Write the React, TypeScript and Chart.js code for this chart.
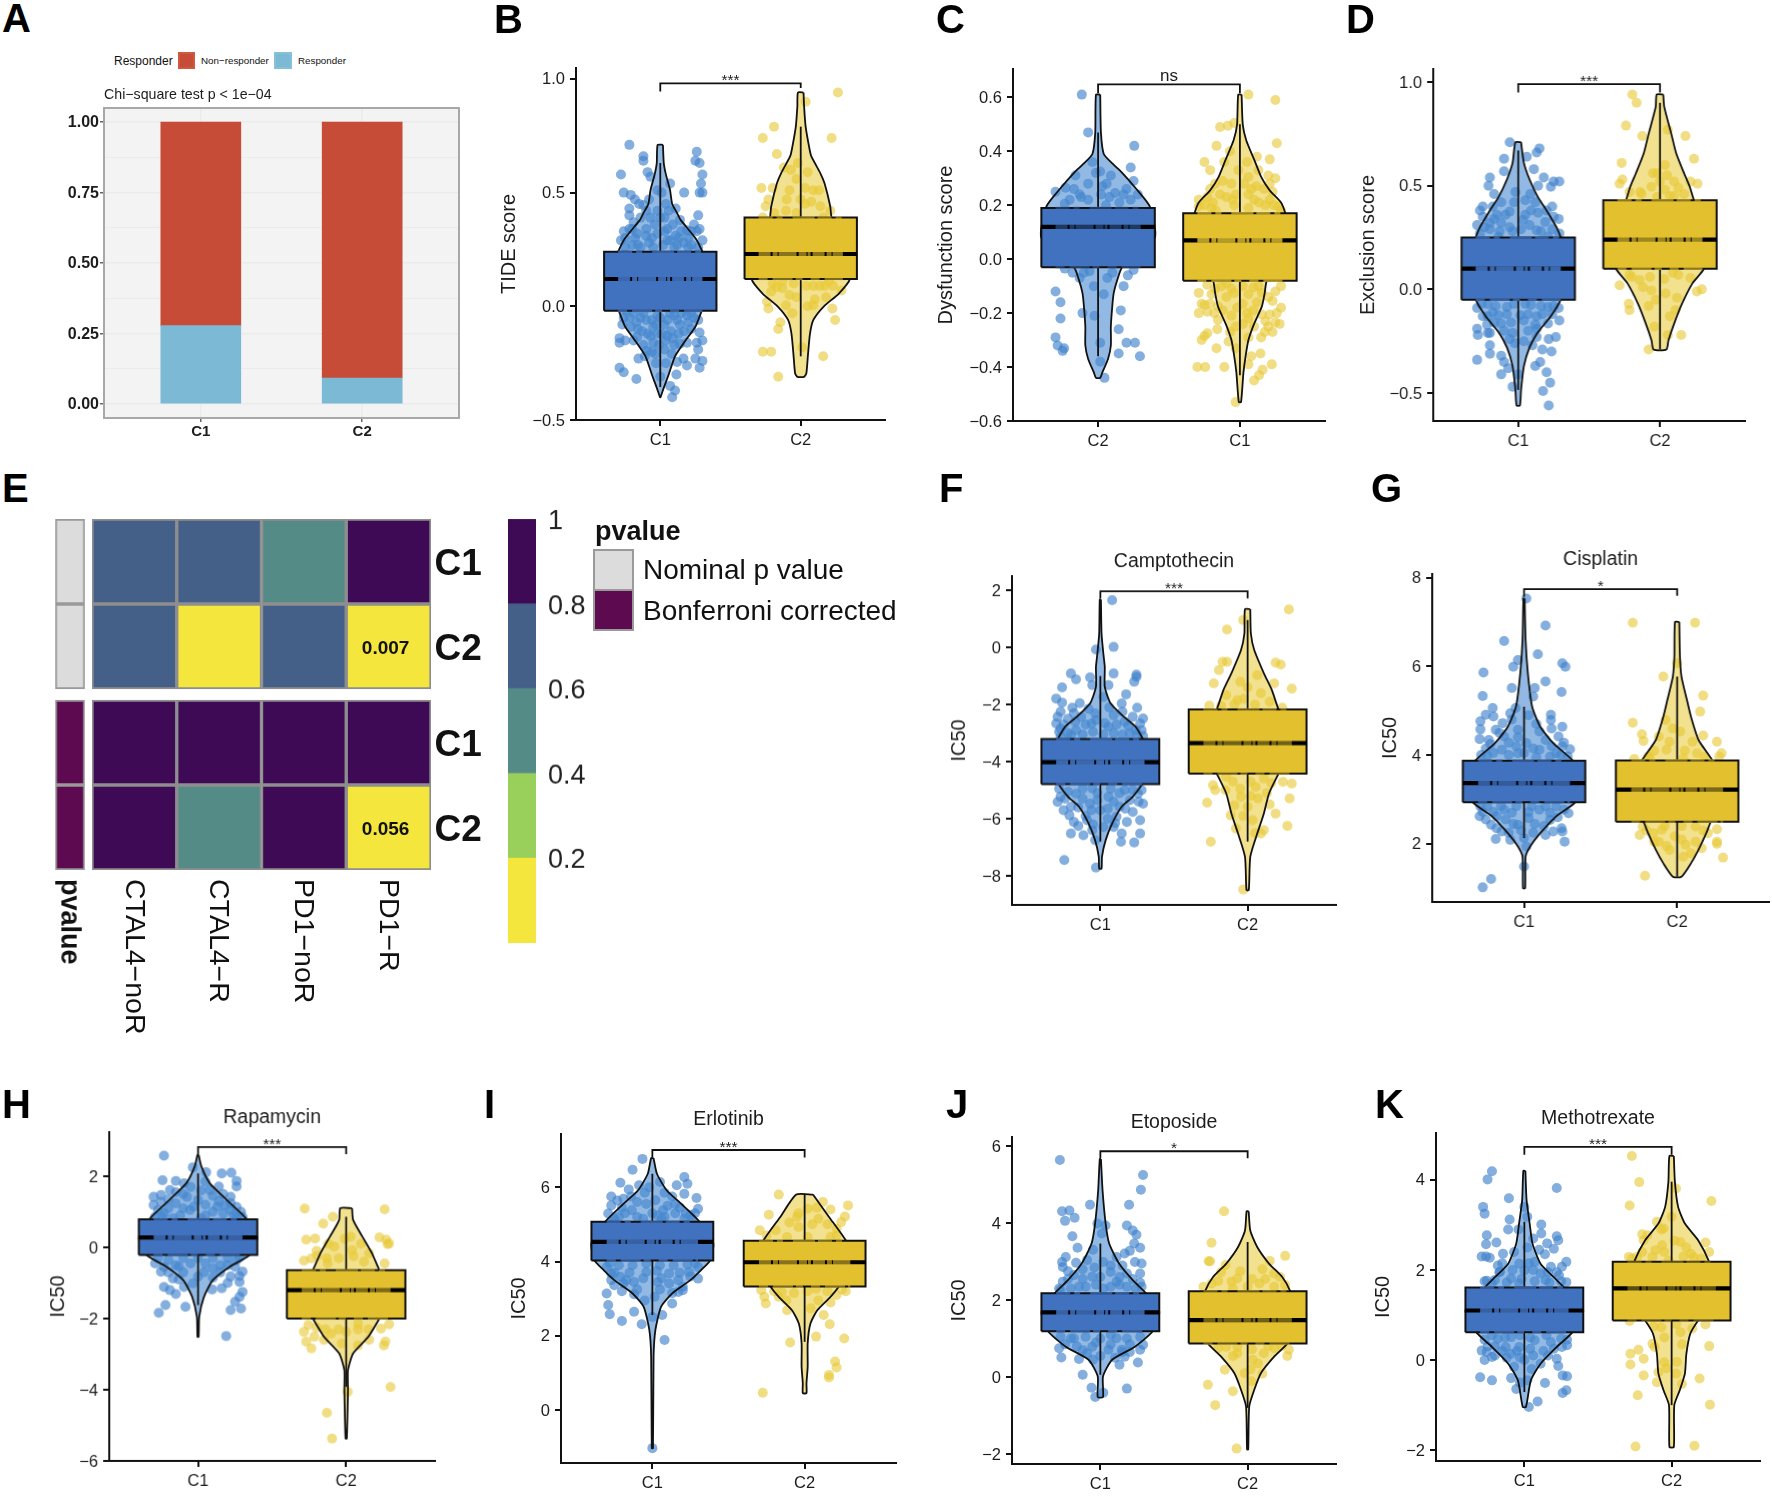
import React, { useEffect, useRef } from "react";
import { Chart, registerables } from "chart.js";

Chart.register(...registerables);

const FONT = "'Liberation Sans', Arial, sans-serif";
const MINUS = "\u2212";

/* ---------- Panel A ---------- */
const aCategories = ["C1", "C2"];
const aResponder = [0.278, 0.092];
const aNonResponder = [0.722, 0.908];
const aYTicks = [0, 0.125, 0.25, 0.375, 0.5, 0.625, 0.75, 0.875, 1];

/* ---------- Panel E ---------- */
const heatColumns = [`CTAL4${MINUS}noR`, `CTAL4${MINUS}R`, `PD1${MINUS}noR`, `PD1${MINUS}R`];
const heatNominalC1 = [0.7, 0.7, 0.5, 0.9];
const heatNominalC2 = [0.7, 0.1, 0.7, 0.007];
const heatBonferroniC1 = [1, 1, 1, 1];
const heatBonferroniC2 = [1, 0.5, 1, 0.056];
const heatRowStarts = [3.13, 2.13, 1, 0];
const heatRowTicks = [0.5, 1.5, 2.63, 3.63];
const heatRowLabels = ["C2", "C1", "C2", "C1"];
const heatBinEdges = [0, 0.2, 0.4, 0.6, 0.8, 1];
const heatBinColors = ["#f5e63e", "#99cf5b", "#558b87", "#456088", "#3e0a55"];
const heatBarTicks = [0.2, 0.4, 0.6, 0.8, 1];
const heatBarTickLabels = ["0.2", "0.4", "0.6", "0.8", "1"];

/* ---------- Panel B: TIDE score ---------- */
const bYTicks = [-0.5, 0, 0.5, 1];
const bBracket = [0.945, 0.98, 0.96];
const bBox1 = [-0.02, 0.12, 0.24];
const bBox2 = [0.12, 0.23, 0.39];
const bWhisker1 = [-0.355, 0.63];
const bWhisker2 = [-0.22, 0.79];
const bViolin1 = [[.71,.019],[.63,.025],[.58,.04],[.51,.07],[.45,.085],[.41,.12],[.38,.145],[.3,.25],[.24,.3],[.12,.38],[-.02,.295],[-.09,.25],[-.15,.18],[-.22,.105],[-.3,.06],[-.36,.024],[-.4,.002]];
const bViolin2 = [[.94,.02],[.88,.024],[.79,.035],[.7,.06],[.66,.075],[.585,.14],[.54,.17],[.44,.21],[.39,.22],[.23,.33],[.12,.35],[.055,.27],[0,.165],[-.06,.09],[-.12,.066],[-.21,.052],[-.295,.04],[-.31,.024]];
const bPoints1 = [[-.22,.71],[-.12,.66],[-.12,.64],[.26,.68],[.25,.64],[.28,.63],[-.28,.58],[-.09,.59],[.3,.58],[-.07,.57],[.29,.54],[-.26,.5],[-.21,.49],[.17,.5],[.28,.5],[.3,.5],[.07,.54],[.01,.5],[-.18,.47],[-.22,.43],[-.15,.45],[-.22,.4],[.27,.4],[-.02,.51],[.04,.45],[-.12,.445],[-.19,.37],[-.22,.34],[.28,.34],[.24,.36],[.26,.33],[.19,.335],[.14,.38],[-.14,.39],[-.07,.39],[0,.39],[-.25,.3],[-.28,.29],[.3,.29],[-.08,.28],[.07,.29],[.165,.28],[.11,.31],[-.165,.32],[-.02,.32],[.05,.34],[-.2,.27],[-.05,.26],[.02,.27],[.1,.26],[.22,.27],[.27,.26],[-.14,.26],[.13,.3],[-.1,.31],[.2,.3],[-.25,.26],[-.26,-.05],[-.14,-.05],[-.21,-.09],[.28,-.115],[-.29,-.14],[-.29,-.16],[-.25,-.15],[-.165,-.135],[-.07,-.13],[.01,-.12],[.075,-.11],[.26,-.16],[.3,-.15],[.19,-.16],[.14,-.165],[.27,-.19],[-.05,-.16],[-.095,-.195],[-.035,-.21],[-.155,-.23],[-.11,-.22],[.08,-.21],[.165,-.23],[.12,-.245],[.25,-.23],[.3,-.24],[.19,-.26],[.28,-.27],[-.29,-.27],[-.26,-.29],[-.17,-.32],[.115,-.3],[0,-.31],[.07,-.35],[.105,-.37],[.085,-.4],[-.05,-.09],[.05,-.06],[.14,-.08],[.24,-.05],[-.19,-.03],[-.1,-.06],[.19,-.04],[-.24,-.02],[0,-.05],[-.03,-.08],[.1,-.04],[.17,-.11],[-.13,-.11],[.22,-.1],[-.17,-.07],[.09,-.14],[-.01,-.17],[.04,-.15],[-.18,.3],[-.1,.34],[-.04,.36],[.03,.33],[.09,.36],[.15,.33],[.22,.33],[-.2,.34],[-.26,.33],[.12,.27],[.05,.29],[-.06,.3],[-.16,.27],[.2,.26],[-.02,.42],[.06,.42],[-.1,.42],[.11,.43],[-.08,.47],[.03,.39],[-.22,-.05],[-.12,-.03],[-.02,-.04],[.07,-.03],[.15,-.03],[.22,-.03],[-.27,-.08],[-.16,-.1],[-.06,-.06],[.03,-.08],[.12,-.06],[.2,-.07],[.27,-.06],[-.09,-.12],[-.02,-.12],[.05,-.13],[.13,-.12],[-.19,-.15],[-.12,-.17],[.03,-.19],[-.06,-.2],[.1,-.17],[-.03,-.25],[.04,-.25]];
const bPoints2 = [[.265,.94],[.035,.9],[-.19,.79],[-.27,.74],[.22,.74],[-.17,.67],[-.02,.63],[-.12,.61],[.05,.59],[-.07,.6],[-.28,.52],[-.2,.52],[-.08,.51],[.03,.52],[.09,.51],[-.23,.47],[-.25,.44],[.075,.46],[-.105,.42],[.21,.42],[-.27,.39],[-.03,.41],[.16,.39],[-.16,.38],[-.21,.065],[-.13,.08],[.29,.07],[.09,.09],[.135,.09],[.2,.11],[-.24,.02],[-.23,-.01],[-.105,.005],[.09,.005],[.225,-.01],[.245,-.06],[-.145,-.07],[-.16,-.1],[.01,-.18],[-.27,-.2],[-.21,-.2],[.16,-.22],[-.16,-.31],[-.03,.04],[.18,.04],[-.17,.085],[.23,.09],[-.19,.41],[-.1,.47],[.14,.44],[0,.47],[.13,.51],[-.03,.56],[.03,.45],[-.13,.11],[-.05,.1],[.04,.09],[.17,.09],[-.2,.1],[.1,.03],[-.08,.05],[.05,0],[-.06,-.03]];

/* ---------- Panel C: Dysfunction score ---------- */
const cYTicks = [-0.6, -0.4, -0.2, 0, 0.2, 0.4, 0.6];
const cBracket = [0.615, 0.648, 0.615];
const cBox1 = [-0.03, 0.12, 0.19];
const cBox2 = [-0.08, 0.07, 0.17];
const cWhisker1 = [-0.36, 0.47];
const cWhisker2 = [-0.43, 0.5];
const cViolin1 = [[.61,.015],[.47,.02],[.39,.04],[.355,.1],[.32,.17],[.26,.27],[.195,.365],[.08,.4],[-.03,.17],[-.077,.135],[-.126,.11],[-.175,.1],[-.25,.09],[-.32,.09],[-.37,.07],[-.42,.03],[-.44,.015]];
const cViolin2 = [[.61,.012],[.5,.02],[.44,.045],[.37,.1],[.305,.15],[.255,.21],[.21,.29],[.17,.32],[.05,.38],[-.08,.19],[-.125,.175],[-.175,.155],[-.24,.1],[-.3,.06],[-.36,.04],[-.42,.025],[-.53,.008]];
const cPoints1 = [[-.115,.61],[-.07,.47],[.255,.42],[.23,.34],[-.16,.31],[-.015,.32],[.015,.325],[.09,.31],[.25,.29],[-.07,.28],[-.23,.265],[-.3,.25],[-.13,.24],[.12,.245],[.18,.24],[.28,.24],[-.12,.23],[.23,.22],[-.235,.205],[.055,.2],[.15,.21],[-.235,-.035],[.25,-.04],[-.06,-.045],[-.13,-.07],[.065,-.07],[.21,-.06],[.18,-.1],[-.3,-.12],[-.265,-.16],[.16,-.19],[-.11,-.2],[-.265,-.22],[-.025,-.21],[.145,-.26],[-.3,-.29],[.2,-.31],[.26,-.31],[.015,-.31],[-.285,-.32],[-.24,-.33],[-.25,-.34],[.145,-.35],[.295,-.36],[.015,-.38],[.045,-.44],[-.2,.22],[-.07,.22],[.02,.24],[.08,.23],[-.17,.26],[.03,.27],[.2,.26],[-.04,.36],[.06,.28],[-.18,-.05],[.1,-.05],[-.03,-.1],[.04,-.13],[-.1,-.05]];
const cPoints2 = [[.06,.61],[.25,.59],[-.14,.49],[-.085,.495],[-.04,.505],[.26,.43],[-.165,.42],[-.07,.4],[.12,.38],[.21,.37],[-.25,.36],[-.11,.36],[-.21,.33],[.2,.31],[.25,.3],[.06,.305],[.21,.28],[-.21,.26],[-.175,.28],[-.06,.28],[.115,.27],[.23,.25],[-.29,.22],[-.23,.23],[-.095,.23],[.06,.24],[.21,.22],[-.29,.195],[-.19,.21],[-.04,.2],[.135,.21],[.27,.195],[.29,.18],[-.17,.18],[.06,.19],[-.23,-.095],[-.29,-.125],[.29,-.1],[.25,-.12],[.23,-.155],[.29,-.18],[-.27,-.165],[-.21,-.165],[-.29,-.2],[-.23,-.195],[-.155,-.175],[-.095,-.14],[.02,-.165],[.095,-.19],[.155,-.205],[.21,-.205],[-.06,-.21],[-.155,-.225],[.06,-.22],[.25,-.235],[.28,-.24],[.175,-.27],[.23,-.27],[-.23,-.275],[-.25,-.285],[-.27,-.3],[-.03,-.25],[-.08,-.305],[-.165,-.33],[.145,-.35],[.08,-.36],[-.3,-.4],[-.245,-.4],[-.11,-.4],[.06,-.39],[.225,-.39],[.16,-.41],[.135,-.43],[.1,-.45],[-.03,-.53],[-.095,-.09],[.095,-.105],[.02,-.1],[.155,-.125],[-.04,-.125],[-.175,-.11],[-.14,.24],[-.03,.24],[.03,.28],[.1,.22],[.17,.26],[-.12,.29],[-.01,.33],[.05,.36],[-.2,.19],[.18,.2],[.24,.2],[-.05,.22],[-.25,.2],[.13,.33],[.08,.26],[-.13,-.1],[-.06,-.11],[.06,-.13],[.13,-.1],[-.2,-.13],[.2,-.14],[-.25,-.17],[.12,-.16],[-.18,-.2],[-.12,-.19],[-.02,-.18],[.05,-.2],[.18,-.23],[.02,-.24],[.1,-.25],[-.16,-.26],[.15,-.29],[.2,-.25],[.26,-.2],[-.07,-.27],[.06,-.29],[-.03,-.33]];

/* ---------- Panel D: Exclusion score ---------- */
const dYTicks = [-0.5, 0, 0.5, 1];
const dBracket = [0.95, 0.99, 0.95];
const dBox1 = [-0.05, 0.1, 0.25];
const dBox2 = [0.1, 0.24, 0.43];
const dWhisker1 = [-0.485, 0.67];
const dWhisker2 = [-0.29, 0.9];
const dViolin1 = [[.71,.02],[.61,.04],[.53,.08],[.45,.135],[.37,.21],[.3,.27],[.25,.3],[.1,.38],[-.05,.3],[-.13,.23],[-.21,.135],[-.28,.08],[-.37,.04],[-.485,.02],[-.56,.012]];
const dViolin2 = [[.94,.023],[.88,.03],[.75,.08],[.655,.115],[.56,.17],[.495,.21],[.43,.24],[.25,.35],[.1,.31],[.03,.23],[-.07,.155],[-.165,.1],[-.245,.06],[-.29,.045]];
const dPoints1 = [[-.06,.71],[.15,.68],[.13,.66],[-.1,.63],[.06,.64],[.11,.58],[-.1,.57],[-.2,.54],[.18,.54],[.25,.52],[.29,.52],[-.21,.5],[.14,.5],[.23,.495],[-.17,.46],[-.02,.47],[.085,.46],[-.25,.4],[-.18,.4],[-.27,.38],[-.06,.375],[.24,.4],[.09,.38],[.285,.34],[.25,.35],[-.29,.31],[-.2,.32],[-.12,.32],[.19,.325],[-.25,.35],[.035,.335],[.29,.27],[-.27,.27],[-.04,.28],[.13,.285],[-.14,.255],[.21,.255],[-.29,-.09],[.285,-.09],[-.215,-.07],[-.08,-.085],[.09,-.075],[.21,-.085],[-.215,-.13],[-.14,-.125],[.015,-.125],[.13,-.13],[.29,-.15],[.21,-.165],[-.12,-.165],[-.29,-.19],[-.285,-.22],[-.215,-.21],[-.2,-.21],[-.04,-.21],[.13,-.19],[.265,-.23],[.215,-.24],[.13,-.23],[-.025,-.26],[-.2,-.27],[-.2,-.31],[.17,-.29],[.235,-.3],[-.29,-.34],[-.12,-.32],[-.1,-.35],[.155,-.35],[.12,-.37],[-.07,-.38],[.2,-.4],[-.12,-.41],[.225,-.45],[-.04,-.47],[.175,-.49],[.215,-.56],[0,-.41],[-.2,.29],[-.13,.28],[-.06,.3],[.02,.29],[.08,.31],[.16,.28],[.24,.29],[-.24,.3],[-.15,.36],[-.09,.36],[.05,.36],[.14,.37],[.2,.38],[-.03,.42],[.05,.43],[-.12,.42],[.12,.42],[-.17,.34],[-.26,-.07],[-.16,-.08],[-.03,-.07],[.05,-.07],[.16,-.08],[.25,-.08],[-.18,-.11],[-.08,-.12],[.07,-.12],[.17,-.12],[.24,-.12],[-.25,-.13],[-.17,-.16],[-.05,-.16],[.04,-.15],[.12,-.17],[-.22,-.17],[-.1,-.2],[.07,-.2],[-.06,-.24],[.04,-.25],[.1,-.27]];
const dPoints2 = [[-.195,.94],[-.165,.9],[-.24,.79],[.055,.77],[-.125,.74],[.18,.74],[.24,.63],[-.27,.61],[.035,.6],[-.02,.56],[-.265,.53],[-.285,.51],[.1,.52],[.265,.51],[.215,.52],[-.215,.47],[-.06,.495],[-.13,.46],[.035,.48],[.17,.46],[-.02,.445],[-.285,.02],[.295,0],[.26,-.01],[.215,.055],[-.215,.07],[-.145,.045],[.09,.08],[-.06,-.005],[-.22,-.07],[-.215,-.1],[-.08,-.08],[.11,-.1],[.15,-.22],[.055,-.22],[-.08,-.29],[-.04,-.18],[-.14,.47],[.07,.45],[.13,.49],[0,.52],[.05,.55],[-.05,.56],[.1,.45],[-.2,.06],[-.07,.06],[.03,.05],[.13,.07],[-.12,.01],[.04,-.02],[.12,-.04],[-.03,-.05],[.07,-.13]];

/* ---------- Panel F: Camptothecin ---------- */
const fYTicks = [-8, -6, -4, -2, 0, 2];
const fBracket = [1.72, 1.97, 1.72];
const fBox1 = [-4.79, -4.02, -3.21];
const fBox2 = [-4.42, -3.35, -2.17];
const fWhisker1 = [-6.8, -1.0];
const fWhisker2 = [-6.8, 0.96];
const fViolin1 = [[1.68,.004],[.49,.008],[-.2,.02],[-.68,.03],[-1.38,.03],[-1.96,.07],[-2.43,.16],[-2.78,.24],[-3.21,.29],[-4,.38],[-4.79,.285],[-5.23,.22],[-5.58,.145],[-6.17,.08],[-6.75,.036],[-7.33,.011],[-7.75,.008]];
const fViolin2 = [[1.34,.018],[.49,.022],[-.09,.045],[-.9,.11],[-1.5,.165],[-2.17,.21],[-3.3,.32],[-4.42,.21],[-5.12,.145],[-5.82,.11],[-6.52,.065],[-7.33,.018],[-8.5,.008]];
const fPoints1 = [[.08,1.66],[.09,.02],[-.03,-.07],[-.2,-.91],[.09,-.91],[.245,-.95],[.245,-1.03],[-.07,-1.05],[-.165,-1.12],[.23,-1.2],[-.26,-1.4],[-.055,-1.32],[.055,-1.32],[.175,-1.64],[-.3,-1.79],[-.26,-1.93],[.145,-1.96],[.02,-1.73],[-.19,-2.11],[.25,-2.11],[-.27,-2.25],[-.035,-2.31],[.29,-2.49],[-.29,-2.43],[-.13,-2.43],[.09,-2.37],[.22,-2.43],[-.3,-2.66],[-.06,-2.66],[.27,-2.66],[.165,-2.6],[-.27,-2.84],[.28,-2.9],[-.165,-2.9],[.055,-2.78],[-.2,-3.07],[.2,-3.01],[-.27,-3.13],[-.27,-5.23],[-.29,-5.41],[.29,-5.47],[.255,-5.12],[-.165,-5.12],[.055,-5.23],[.165,-5],[-.055,-4.94],[-.2,-5.58],[-.07,-5.47],[.13,-5.58],[.22,-5.76],[-.21,-5.88],[0,-5.7],[-.18,-6.11],[.27,-6.05],[.18,-6.11],[.11,-5.93],[-.09,-6.05],[-.2,-6.52],[-.115,-6.58],[.27,-6.52],[.145,-6.52],[-.035,-6.75],[.14,-6.81],[.23,-6.83],[-.245,-7.45],[-.03,-7.71],[.02,-6.29],[-.055,-6.4],[.09,-6.29],[-.22,-2.5],[-.25,-2.7],[-.17,-2.6],[-.1,-2.7],[-.03,-2.55],[.03,-2.65],[.11,-2.7],[.19,-2.75],[.24,-2.9],[-.28,-2.95],[-.22,-3],[-.12,-3.05],[-.05,-2.95],[.02,-3.05],[.09,-3],[.15,-3.05],[.25,-3.05],[.29,-3.1],[-.18,-2.3],[-.08,-2.15],[.06,-2.1],[.15,-2.25],[-.14,-1.95],[-.28,-4.95],[-.22,-5.05],[-.12,-4.95],[-.02,-5.1],[.07,-4.95],[.13,-5.1],[.22,-5],[.28,-5],[-.24,-5.3],[-.12,-5.3],[-.02,-5.35],[.09,-5.4],[.2,-5.35],[.26,-5.4],[-.15,-5.6],[-.06,-5.7],[.05,-5.65],[.17,-5.65],[-.25,-5.7],[-.1,-5.9],[.05,-6],[-.15,-6.25],[.1,-6.15],[-.05,-6.2]];
const fPoints2 = [[.28,1.33],[-.03,.96],[-.14,.63],[-.17,-.5],[-.14,-.5],[.19,-.53],[.225,-.6],[-.195,-.79],[.065,-.97],[-.23,-1.26],[.18,-1.26],[.3,-1.44],[-.145,-1.67],[-.07,-1.85],[-.025,-1.79],[-.26,-2.04],[.235,-2.11],[-.145,-4.53],[.11,-4.59],[.24,-4.71],[.3,-4.77],[-.235,-4.82],[-.22,-5],[.055,-4.88],[-.045,-5.23],[.285,-5.29],[-.275,-5.44],[.07,-5.29],[-.09,-5.53],[-.115,-5.88],[.19,-5.82],[.035,-6.05],[.27,-6.25],[-.08,-6.34],[.11,-6.4],[.09,-6.52],[-.25,-6.81],[-.03,-8.48],[0,-5.58],[-.09,-2],[0,-1.4],[.09,-1.6],[.15,-1.9],[-.05,-1.2],[-.18,-2.05],[.05,-2],[-.1,-4.7],[.02,-4.7],[.16,-4.75],[-.05,-4.95],[.13,-5.1],[-.15,-5],[.02,-5.2],[.15,-5.5],[-.03,-5.9],[.05,-6.5]];

/* ---------- Panel G: Cisplatin ---------- */
const gYTicks = [2, 4, 6, 8];
const gBracket = [7.57, 7.74, 7.59];
const gBox1 = [2.94, 3.37, 3.87];
const gBox2 = [2.5, 3.22, 3.88];
const gWhisker1 = [2.13, 5.09];
const gWhisker2 = [1.26, 5.77];
const gViolin1 = [[7.53,.004],[6.6,.01],[5.84,.025],[5.09,.053],[4.64,.106],[4.27,.19],[3.87,.32],[3.4,.39],[2.94,.335],[2.62,.21],[2.24,.106],[1.94,.04],[1.71,.01],[1,.007]];
const gViolin2 = [[7,.014],[6.22,.018],[5.77,.028],[5.24,.064],[4.87,.09],[4.34,.14],[3.88,.23],[3.2,.33],[2.5,.22],[2.24,.19],[1.87,.14],[1.56,.09],[1.26,.028]];
const gPoints1 = [[.015,7.53],[.14,6.92],[-.13,6.57],[.09,6.27],[-.04,6.14],[-.07,5.99],[.25,6.07],[.27,5.99],[-.265,5.86],[.14,5.66],[-.08,5.51],[.07,5.51],[.06,5.32],[.245,5.42],[-.27,5.33],[-.205,5.06],[-.055,5.06],[-.09,4.94],[.175,4.91],[-.25,4.91],[-.285,4.76],[-.2,4.87],[.175,4.79],[-.14,4.72],[.25,4.64],[-.285,4.58],[-.185,4.57],[-.04,4.57],[.1,4.53],[-.29,4.36],[-.23,4.34],[-.13,4.42],[.225,4.42],[.26,4.28],[-.25,4.15],[.3,4.13],[.015,4.27],[.14,4.34],[-.145,4.12],[-.28,4],[.21,4.04],[.285,3.97],[-.04,4.04],[.1,4.12],[-.285,2.84],[.29,2.69],[-.29,2.62],[-.215,2.43],[-.04,2.43],[-.13,2.77],[.1,2.77],[.21,2.84],[.26,2.77],[-.18,2.62],[.03,2.58],[.17,2.54],[.245,2.35],[.19,2.28],[.14,2.2],[.25,2.28],[-.185,2.11],[-.09,2.09],[0,2.13],[-.145,2.28],[.265,2.05],[.015,1.94],[0,1.49],[-.215,1.21],[-.27,1.02],[-.24,3.98],[-.2,4.05],[-.1,4],[0,4.05],[.08,3.95],[.17,3.97],[.24,4],[-.22,4.25],[-.1,4.28],[-.05,4.2],[.06,4.15],[.18,4.2],[-.16,4.5],[.08,4.7],[-.08,4.8],[.18,4.6],[.03,4.9],[-.04,4.4],[.25,4.2],[-.24,2.85],[-.15,2.85],[-.05,2.85],[.05,2.85],[.14,2.85],[-.27,2.72],[-.2,2.72],[-.08,2.7],[.03,2.72],[.17,2.7],[.22,2.6],[-.25,2.55],[-.12,2.55],[-.07,2.45],[.07,2.45],[.13,2.4],[-.18,2.35],[-.1,2.25],[.06,2.25],[-.02,2.3]];
const gPoints2 = [[-.29,6.98],[.117,6.98],[0,6.07],[-.09,5.77],[.17,5.34],[.15,4.98],[-.29,4.73],[-.075,4.79],[.02,4.53],[-.23,4.47],[.17,4.44],[-.22,4.32],[.26,4.3],[-.12,4.42],[-.07,4.12],[.13,4.04],[.29,4.04],[.275,3.97],[-.28,3.91],[-.19,3.97],[.04,3.93],[-.225,2.39],[-.245,2.2],[-.1,2.32],[-.155,2.24],[.12,2.39],[.26,2.33],[.2,2.24],[.26,2.05],[.26,2],[.055,1.98],[-.12,2.05],[-.015,2.17],[-.05,1.86],[.09,1.79],[.04,1.71],[.3,1.69],[-.21,1.28],[-.15,4.1],[-.05,4.3],[.05,4.1],[.1,4.3],[-.18,3.95],[.18,3.97],[-.03,4.6],[-.2,2.3],[-.08,2.4],[.03,2.4],[.17,2.3],[-.15,2.05],[.03,2.1],[.12,2.05],[-.07,1.95],[.16,1.9]];

/* ---------- Panel H: Rapamycin ---------- */
const hYTicks = [-6, -4, -2, 0, 2];
const hBracket = [2.61, 2.82, 2.62];
const hBox1 = [-0.21, 0.28, 0.79];
const hBox2 = [-2, -1.2, -0.64];
const hWhisker1 = [-1.62, 2.08];
const hWhisker2 = [-3.92, 0.86];
const hViolin1 = [[2.6,.004],[2.27,.023],[1.8,.08],[1.33,.195],[.79,.33],[.28,.4],[-.21,.35],[-.54,.215],[-.92,.1],[-1.39,.04],[-1.95,.008],[-2.51,.004]];
const hViolin2 = [[1.1,.04],[.77,.047],[.3,.11],[-.17,.175],[-.64,.225],[-1.3,.33],[-2,.225],[-2.51,.15],[-2.98,.047],[-3.45,.012],[-4,.012],[-5.37,.004]];
const hPoints1 = [[-.23,2.58],[-.035,2.25],[.055,2.11],[.16,2.08],[.225,2.1],[-.24,1.89],[.26,1.87],[-.15,1.87],[-.095,1.8],[.26,1.71],[-.3,1.42],[.14,1.71],[-.25,1.47],[-.19,1.61],[-.075,1.42],[.08,1.61],[.22,1.42],[-.3,1.19],[-.25,1.28],[-.15,1.24],[0,1.33],[.18,1.19],[.26,1.14],[-.23,.96],[-.055,1.05],[.1,1],[.26,.86],[-.29,.86],[.3,.86],[-.17,.82],[.02,.82],[-.29,-.45],[-.25,-.68],[.26,-.36],[.3,-.68],[.22,-.82],[-.17,-.87],[.28,-.97],[-.23,-1.11],[-.19,-1.2],[-.095,-1.11],[.095,-1.18],[.16,-1.15],[.3,-1.25],[-.15,-1.31],[.28,-1.39],[-.22,-1.62],[-.085,-1.67],[.25,-1.53],[.29,-1.72],[.22,-1.76],[-.265,-1.84],[.19,-2.49],[0,-.82],[-.13,-.54],[.1,-.59],[.2,-.5],[-.035,-1.01],[-.27,1.05],[-.2,1.1],[-.1,1.1],[-.03,1.15],[.05,1.2],[.13,1.15],[.22,1.05],[.29,1],[-.24,.85],[-.12,.9],[.05,.9],[.17,.95],[.24,.9],[-.2,1.35],[-.1,1.5],[.02,1.6],[.1,1.45],[.17,1.5],[-.05,1.7],[.05,1.85],[.14,1.3],[-.15,1.55],[.22,1.25],[-.27,-.3],[-.2,-.35],[-.1,-.3],[0,-.3],[.1,-.3],[.2,-.3],[.28,-.28],[-.23,-.55],[-.15,-.5],[-.05,-.45],[.05,-.45],[.15,-.5],[.25,-.55],[.28,-.8],[-.2,-.7],[-.1,-.7],[.04,-.7],[.15,-.7],[-.13,-.9],[.1,-.85],[.2,-1]];
const hPoints2 = [[-.28,1.09],[.26,1.07],[-.09,.86],[-.155,.67],[-.21,.25],[-.27,.22],[-.01,.25],[.225,.28],[.27,.22],[.29,.11],[.28,.09],[-.195,-.23],[-.235,-.31],[-.285,-.375],[-.125,-.45],[.26,-.45],[.155,-.17],[.04,-.08],[-.08,.02],[-.255,-2.18],[-.285,-2.37],[.29,-2.16],[.235,-2.28],[-.27,-2.65],[-.215,-2.51],[-.1,-2.42],[.155,-2.6],[.265,-2.65],[.255,-2.75],[-.235,-2.84],[0,-2.37],[.08,-2.14],[.3,-3.92],[.01,-4.06],[-.13,-4.65],[-.095,-5.37],[-.2,-.1],[-.13,-.3],[-.05,-.3],[.05,-.25],[.12,-.4],[.03,.3],[.1,.1],[-.12,.1],[-.2,-2.25],[-.14,-2.3],[-.05,-2.3],[.08,-2.3],[.15,-2.3],[-.15,-2.6],[-.03,-2.7],[.08,-2.75]];

/* ---------- Panel I: Erlotinib ---------- */
const iYTicks = [0, 2, 4, 6];
const iBracket = [6.8, 7.0, 6.8];
const iBox1 = [4.03, 4.53, 5.07];
const iBox2 = [3.33, 3.98, 4.56];
const iWhisker1 = [2.56, 6.36];
const iWhisker2 = [1.84, 5.8];
const iViolin1 = [[6.78,.008],[6.36,.03],[5.91,.095],[5.55,.19],[5.07,.31],[4.5,.4],[4.03,.38],[3.77,.32],[3.5,.25],[3.14,.13],[2.78,.057],[2.16,.02],[1.44,.008],[-1.02,.004]];
const iViolin2 = [[5.8,.055],[5.2,.16],[4.57,.27],[4,.33],[3.33,.225],[3.05,.17],[2.69,.083],[2.33,.038],[1.8,.02],[1.17,.02],[.72,.012],[.46,.012]];
const iPoints1 = [[-.065,6.76],[-.13,6.47],[.21,6.27],[.23,6.09],[-.21,6.12],[.16,6.05],[-.155,5.94],[-.087,6.05],[.05,6.14],[-.27,5.75],[.21,5.82],[.29,5.71],[-.19,5.69],[-.23,5.64],[-.27,5.51],[-.04,5.55],[.15,5.55],[.3,5.42],[-.29,5.29],[-.135,5.38],[.07,5.38],[.22,5.29],[-.25,5.15],[-.06,5.15],[.26,5.15],[.035,5.24],[-.3,3.85],[-.27,3.68],[.3,3.85],[.24,3.72],[.3,3.54],[-.25,3.36],[-.19,3.41],[-.12,3.45],[.035,3.45],[.11,3.41],[.2,3.32],[.2,3.23],[-.3,3.14],[-.12,3.12],[.17,3.18],[.13,2.87],[-.29,2.83],[.015,3.05],[-.28,2.58],[-.12,2.65],[.065,2.56],[0,2.51],[-.2,2.4],[-.07,2.31],[.08,1.89],[0,-1.02],[-.21,3.59],[.11,3.68],[-.04,3.72],[-.28,5],[-.22,5.2],[-.18,5.3],[-.1,5.2],[0,5.3],[.08,5.2],[.15,5.3],[.21,5.15],[.28,5.3],[-.2,5.45],[-.1,5.6],[.02,5.65],[.1,5.5],[.18,5.45],[-.14,5.75],[-.05,5.85],[.08,5.85],[.13,5.75],[-.02,6],[-.25,5.1],[.25,5.25],[.06,5.15],[-.28,3.95],[-.22,3.9],[-.13,3.9],[-.04,3.95],[.05,3.9],[.14,3.9],[.23,3.92],[.28,3.95],[-.25,3.7],[-.15,3.7],[.03,3.75],[.18,3.7],[.25,3.6],[-.27,3.5],[-.17,3.5],[-.06,3.55],[.06,3.55],[.17,3.5],[-.1,3.25],[.05,3.25],[.13,3.15],[-.2,3.2],[-.05,2.95]];
const iPoints2 = [[-.17,5.8],[.285,5.51],[.12,5.6],[.02,5.42],[-.235,5.26],[.265,5.21],[-.05,5.2],[.09,5.15],[.24,5.06],[-.04,4.93],[-.295,4.84],[-.19,4.84],[.21,4.88],[.17,4.66],[-.115,4.66],[.02,4.66],[-.285,3.23],[.245,3.25],[-.15,3.18],[.075,3.27],[-.265,3.05],[-.255,2.87],[.17,2.9],[-.17,3.05],[-.115,2.69],[.04,2.74],[.125,2.56],[.165,2.31],[.075,1.98],[-.095,1.82],[.26,1.93],[.2,1.31],[.21,1.15],[.16,.95],[.16,.88],[-.275,.47],[.17,5.4],[.08,5.45],[-.1,5.05],[.15,5],[-.04,5.3],[.05,5],[.21,4.7],[-.25,4.7],[-.2,3.2],[-.07,3.15],[.02,3.2],[.15,3.2],[.21,3.1],[.27,3.2],[-.12,2.95],[.09,2.95]];

/* ---------- Panel J: Etoposide ---------- */
const jYTicks = [-2, 0, 2, 4, 6];
const jBracket = [5.69, 5.87, 5.69];
const jBox1 = [1.19, 1.68, 2.18];
const jBox2 = [0.87, 1.48, 2.23];
const jWhisker1 = [0.06, 3.47];
const jWhisker2 = [-0.8, 3.51];
const jViolin1 = [[5.67,.004],[4.85,.015],[3.99,.036],[3.47,.06],[2.95,.127],[2.52,.22],[2.18,.31],[1.7,.4],[1.19,.355],[.79,.235],[.45,.08],[.02,.018],[-.52,.018]];
const jViolin2 = [[4.31,.007],[3.81,.018],[3.38,.065],[2.95,.145],[2.6,.235],[2.23,.29],[1.5,.36],[.87,.27],[.53,.18],[.1,.09],[-.33,.045],[-.76,.011],[-1.88,.004]];
const jPoints1 = [[-.275,5.64],[.29,5.25],[.275,4.87],[-.07,4.48],[.195,4.48],[-.26,4.31],[-.21,4.33],[-.175,4.14],[-.24,4.06],[-.02,3.99],[.035,3.94],[.18,3.94],[.22,3.81],[.01,3.73],[-.19,3.66],[.245,3.7],[.23,3.47],[.27,3.36],[-.05,3.31],[-.155,3.36],[.2,3.28],[.165,3.21],[.11,3.12],[-.235,3.12],[-.26,2.99],[.235,2.99],[.28,2.95],[-.165,2.97],[-.09,3.04],[-.255,2.86],[.02,2.99],[.07,2.73],[-.18,2.65],[.18,2.69],[.27,2.69],[-.055,2.61],[-.255,2.48],[.27,2.45],[.11,2.48],[-.145,2.35],[.02,2.3],[.18,2.35],[-.27,2.26],[-.28,.75],[.29,.84],[.27,.71],[-.265,.51],[-.145,.47],[-.18,1.01],[.11,1.01],[-.055,.79],[.055,.71],[.165,.53],[.13,.32],[.255,.38],[-.12,.06],[-.06,-.28],[.18,-.3],[.02,-.41],[-.035,-.52],[.145,.71],[-.09,.62],[-.28,2.3],[-.2,2.3],[-.1,2.35],[-.03,2.4],[.07,2.35],[.13,2.4],[.24,2.3],[.28,2.35],[-.22,2.55],[-.12,2.55],[0,2.6],[.13,2.6],[.22,2.55],[-.04,2.85],[.07,2.9],[-.12,2.8],[.15,2.9],[-.22,2.75],[-.27,1.05],[-.2,1],[-.1,1.05],[0,1],[.07,1.1],[.18,1],[.27,1.05],[-.24,.85],[-.16,.8],[-.03,.9],[.07,.85],[.2,.85],[-.12,.7],[0,.55],[.1,.5],[.15,.65],[.2,.65],[-.05,.45]];
const jPoints2 = [[-.16,4.31],[-.245,3.49],[.255,3.15],[-.265,3.01],[-.255,3.01],[.15,3.02],[-.15,2.91],[-.18,2.73],[.18,2.69],[-.07,2.56],[.22,2.6],[-.245,2.43],[-.3,2.35],[.08,2.43],[.255,2.39],[-.11,2.48],[0,2.35],[.28,.71],[.27,.55],[.18,.75],[-.145,.79],[.11,.62],[.035,.45],[-.155,.19],[-.02,.1],[.1,.09],[-.27,-.2],[.025,-.11],[-.1,-.37],[-.22,-.73],[-.075,-1.86],[-.07,.62],[-.1,2.3],[.03,2.55],[.12,2.55],[.18,2.35],[-.2,2.5],[-.05,2.75],[.1,2.8],[-.2,.75],[-.07,.78],[.03,.72],[.14,.8],[.23,.8],[-.1,.55],[.07,.35],[.02,.2]];

/* ---------- Panel K: Methotrexate ---------- */
const kYTicks = [-2, 0, 2, 4];
const kBracket = [4.56, 4.73, 4.56];
const kBox1 = [0.62, 1.1, 1.61];
const kBox2 = [0.88, 1.59, 2.18];
const kWhisker1 = [-0.71, 3.07];
const kWhisker2 = [-1.0, 3.96];
const kViolin1 = [[4.2,.007],[3.55,.015],[3.03,.036],[2.59,.055],[2.14,.11],[1.84,.2],[1.61,.27],[1.1,.4],[.62,.327],[.29,.22],[-.08,.11],[-.45,.044],[-1.04,.011]];
const kViolin2 = [[4.53,.015],[3.96,.022],[3.4,.044],[3.03,.09],[2.66,.18],[2.18,.255],[1.5,.32],[.88,.18],[.59,.127],[.14,.1],[-.3,.09],[-.67,.055],[-1,.018],[-1.93,.015]];
const kPoints1 = [[-.22,4.19],[-.25,4.01],[.22,3.82],[-.105,3.59],[-.28,3.4],[0,3.4],[-.27,3.25],[-.1,3.12],[.02,3.18],[.115,3.01],[-.11,2.9],[.115,2.81],[-.255,2.77],[.22,2.75],[-.19,2.61],[-.26,2.57],[.155,2.59],[.23,2.66],[.1,2.45],[.2,2.47],[-.26,2.3],[-.145,2.36],[-.29,2.3],[-.235,2.27],[.14,2.35],[.285,2.18],[-.18,2.1],[-.035,2.14],[.07,2.18],[.18,2.07],[.255,2.07],[-.165,1.96],[0,1.99],[.11,1.92],[.235,1.88],[.285,1.73],[-.255,1.76],[-.09,1.81],[-.22,1.7],[.145,1.77],[-.035,1.7],[-.29,.21],[-.255,.18],[-.2,.1],[-.27,0],[-.127,.29],[-.035,.29],[.255,.29],[.29,.33],[.18,.4],[-.09,.51],[.07,.44],[-.18,.47],[.22,.03],[.23,-.13],[.11,-.08],[0,0],[-.09,.14],[-.3,-.38],[-.22,-.45],[-.09,-.4],[.02,-.45],[.14,-.51],[.26,-.34],[.29,-.36],[-.055,-.64],[.285,-.67],[.26,-.73],[.09,-.92],[.03,-1.04],[-.22,.07],[-.27,1.75],[-.2,1.78],[-.12,1.72],[-.02,1.8],[.07,1.75],[.17,1.72],[.25,1.75],[-.17,1.95],[-.08,2],[.06,2],[.16,1.95],[-.15,2.15],[.03,2.15],[-.07,2.4],[.02,2.5],[.06,2.7],[-.04,2.9],[.22,1.95],[-.27,.45],[-.22,.55],[-.13,.5],[-.03,.55],[.04,.5],[.15,.55],[.25,.48],[.29,.45],[-.25,.3],[-.2,.3],[-.15,.2],[-.05,.2],[.04,.25],[.13,.2],[.2,.25],[-.12,.05],[-.03,.05],[.06,.1],[.16,.1],[-.07,-.15],[.05,-.2],[-.03,-.5]];
const kPoints2 = [[-.27,4.53],[-.22,3.95],[.03,3.81],[-.285,3.43],[.27,3.53],[-.1,3.07],[0,3.18],[-.055,2.92],[-.2,2.79],[-.165,2.77],[-.19,2.66],[-.065,2.55],[.06,2.62],[.23,2.61],[.255,2.4],[-.11,2.44],[-.13,2.29],[-.29,2.29],[-.235,2.29],[.13,2.36],[-.02,2.21],[-.285,.87],[.23,.79],[-.07,.73],[.06,.62],[-.13,.36],[-.115,.29],[.255,.31],[-.225,.23],[-.28,.14],[-.19,.03],[-.28,-.1],[.035,-.04],[-.035,-.18],[-.19,-.34],[-.09,-.27],[-.1,-.49],[.07,-.53],[.19,-.41],[-.23,-.78],[.26,-.99],[-.245,-1.92],[.155,-1.9],[-.27,2.25],[-.2,2.4],[-.05,2.4],[.08,2.3],[.2,2.25],[.02,2.65],[-.07,2.9],[.1,2.5],[.15,2.28],[-.12,.75],[.03,.8],[.14,.7],[-.05,.5],[.07,.35],[-.05,-.05],[.03,-.3]];

/* ---------- Styles ---------- */
const BLUE = { point: "rgba(64,130,205,0.65)", violin: "rgba(74,138,208,0.6)", box: "#4172bf", rgb: "65,114,191" };
const GOLD = { point: "rgba(232,200,50,0.6)", violin: "rgba(232,200,50,0.55)", box: "#e2c02e", rgb: "226,192,46" };
const INK = "#1c1c1c";

const fixedFit = (w?: number, h?: number) => (s: any) => {
  if (w != null) s.width = w;
  if (h != null) s.height = h;
  s.paddingLeft = s.paddingRight = s.paddingTop = s.paddingBottom = 0;
};
const setTicks = (vals: number[]) => (s: any) => {
  s.ticks = vals.map((v) => ({ value: v }));
};
const fmt = (v: number, d: number) => v.toFixed(d).replace("-", MINUS);
const binColor = (v: number) => {
  for (let i = 0; i < heatBinColors.length; i++) if (v <= heatBinEdges[i + 1]) return heatBinColors[i];
  return heatBinColors[heatBinColors.length - 1];
};
const commonOptions = (padding: any) => ({
  responsive: false,
  animation: false as const,
  events: [],
  layout: { autoPadding: false, padding },
  plugins: { legend: { display: false }, tooltip: { enabled: false }, title: { display: false } },
});
const line = (data: any[], color: string, width: number, order: number, extra: any = {}) => ({
  type: "scatter",
  showLine: true,
  data,
  borderColor: color,
  borderWidth: width,
  pointRadius: 0,
  fill: false,
  order,
  clip: false,
  ...extra,
});

function groupDatasets(c: number, g: any, pal: any) {
  const [q1, med, q3] = g.box;
  const right = g.violin.map(([y, h]: number[]) => ({ x: c + h, y }));
  const left = g.violin.map(([y, h]: number[]) => ({ x: c - h, y })).reverse();
  const hw = 0.4;
  const inner = 0.3;
  const over = `rgba(${pal.rgb},${g.mott})`;
  const overEdge = `rgba(${pal.rgb},${g.mott * 0.85})`;
  return [
    {
      type: "scatter",
      data: g.pts.map(([dx, y]: number[]) => ({ x: c + dx, y })),
      backgroundColor: pal.point,
      borderWidth: 0,
      pointRadius: 5,
      order: 60,
    },
    line([...right, ...left, right[0]], "#111", 1.8, 50, { fill: "shape", backgroundColor: pal.violin, tension: 0.2, borderJoinStyle: "round" }),
    line([{ x: c, y: g.whisker[0] }, { x: c, y: g.whisker[1] }], "#111", 1.8, 40),
    line(
      [{ x: c - hw, y: q1 }, { x: c + hw, y: q1 }, { x: c + hw, y: q3 }, { x: c - hw, y: q3 }, { x: c - hw, y: q1 }],
      "#111",
      2,
      30,
      { fill: "shape", backgroundColor: pal.box, borderJoinStyle: "miter" }
    ),
    line([{ x: c - hw, y: med }, { x: c + hw, y: med }], "#000", 4.2, 20),
    line([{ x: c - inner, y: med }, { x: c + inner, y: med }], over, 5, 10, { borderDash: [12, 2, 5, 1, 18, 2, 8, 1, 3, 2] }),
    line([{ x: c - inner, y: q3 }, { x: c + inner, y: q3 }], overEdge, 2.6, 10, { borderDash: [14, 4, 6, 10, 22, 3] }),
    line([{ x: c - inner, y: q1 }, { x: c + inner, y: q1 }], overEdge, 2.6, 10, { borderDash: [9, 5, 20, 3, 7, 8] }),
  ];
}

/* ---------- Violin panels ---------- */
const panels: any[] = [
  { area: [576, 885, 68, 420], range: [-0.5, 1.048], ticks: bYTicks, d: 1, cats: ["C1", "C2"], yTitle: "TIDE score", dist: 67, bracket: bBracket, sig: "***",
    a: { pts: bPoints1, violin: bViolin1, box: bBox1, whisker: bWhisker1, mott: 0.9 }, b: { pts: bPoints2, violin: bViolin2, box: bBox2, whisker: bWhisker2, mott: 0.6 } },
  { area: [1013, 1325, 69, 421.3], range: [-0.6, 0.705], ticks: cYTicks, d: 1, cats: ["C2", "C1"], yTitle: "Dysfunction score", dist: 67, bracket: cBracket, sig: "ns",
    a: { pts: cPoints1, violin: cViolin1, box: cBox1, whisker: cWhisker1, mott: 0.5 }, b: { pts: cPoints2, violin: cViolin2, box: cBox2, whisker: cWhisker2, mott: 0.8 } },
  { area: [1433.4, 1745, 69, 421], range: [-0.635, 1.063], ticks: dYTicks, d: 1, cats: ["C1", "C2"], yTitle: "Exclusion score", dist: 65, bracket: dBracket, sig: "***",
    a: { pts: dPoints1, violin: dViolin1, box: dBox1, whisker: dWhisker1, mott: 0.9 }, b: { pts: dPoints2, violin: dViolin2, box: dBox2, whisker: dWhisker2, mott: 0.7 } },
  { area: [1011.5, 1336, 576, 904.7], range: [-9.02, 2.5], ticks: fYTicks, d: 0, cats: ["C1", "C2"], yTitle: "IC50", dist: 53, title: "Camptothecin", bracket: fBracket, sig: "***",
    a: { pts: fPoints1, violin: fViolin1, box: fBox1, whisker: fWhisker1, mott: 0.9 }, b: { pts: fPoints2, violin: fViolin2, box: fBox2, whisker: fWhisker2, mott: 0.5 } },
  { area: [1432.4, 1769, 574, 902], range: [0.69, 8.08], ticks: gYTicks, d: 0, cats: ["C1", "C2"], yTitle: "IC50", dist: 42, title: "Cisplatin", bracket: gBracket, sig: "*",
    a: { pts: gPoints1, violin: gViolin1, box: gBox1, whisker: gWhisker1, mott: 0.8 }, b: { pts: gPoints2, violin: gViolin2, box: gBox2, whisker: gWhisker2, mott: 0.55 } },
  { area: [109, 434.5, 1132, 1460.7], range: [-6, 3.24], ticks: hYTicks, d: 0, cats: ["C1", "C2"], yTitle: "IC50", dist: 51, title: "Rapamycin", bracket: hBracket, sig: "***",
    a: { pts: hPoints1, violin: hViolin1, box: hBox1, whisker: hWhisker1, mott: 0.85 }, b: { pts: hPoints2, violin: hViolin2, box: hBox2, whisker: hWhisker2, mott: 0.55 } },
  { area: [561, 896, 1134, 1463], range: [-1.42, 7.43], ticks: iYTicks, d: 0, cats: ["C1", "C2"], yTitle: "IC50", dist: 42, title: "Erlotinib", bracket: iBracket, sig: "***",
    a: { pts: iPoints1, violin: iViolin1, box: iBox1, whisker: iWhisker1, mott: 0.85 }, b: { pts: iPoints2, violin: iViolin2, box: iBox2, whisker: iWhisker2, mott: 0.6 } },
  { area: [1011.5, 1336, 1136.7, 1464.3], range: [-2.26, 6.24], ticks: jYTicks, d: 0, cats: ["C1", "C2"], yTitle: "IC50", dist: 53, title: "Etoposide", bracket: jBracket, sig: "*",
    a: { pts: jPoints1, violin: jViolin1, box: jBox1, whisker: jWhisker1, mott: 0.85 }, b: { pts: jPoints2, violin: jViolin2, box: jBox2, whisker: jWhisker2, mott: 0.5 } },
  { area: [1435.7, 1760.5, 1132.7, 1460.7], range: [-2.24, 5.04], ticks: kYTicks, d: 0, cats: ["C1", "C2"], yTitle: "IC50", dist: 53, title: "Methotrexate", bracket: kBracket, sig: "***",
    a: { pts: kPoints1, violin: kViolin1, box: kBox1, whisker: kWhisker1, mott: 0.85 }, b: { pts: kPoints2, violin: kViolin2, box: kBox2, whisker: kWhisker2, mott: 0.4 } },
];

function violinSpec(p: any) {
  const [l, r, t, b] = p.area;
  const yW = 80, top = 40, right = 15, xH = 50;
  const titleSize = 20;
  return {
    left: l - yW, top: t - top, width: r - l + yW + right, height: b - t + top + xH,
    make: () => ({
      type: "scatter",
      data: {
        datasets: [
          ...groupDatasets(1, p.a, BLUE),
          ...groupDatasets(2, p.b, GOLD),
          line([{ x: 1, y: p.bracket[0] }, { x: 1, y: p.bracket[1] }, { x: 2, y: p.bracket[1] }, { x: 2, y: p.bracket[2] }], "#111", 1.8, 5),
        ],
      },
      options: {
        ...commonOptions({ top, right, left: 0, bottom: 0 }),
        scales: {
          x: {
            type: "linear", min: 0.4, max: 2.6, afterFit: fixedFit(undefined, xH), afterBuildTicks: setTicks([1, 2]),
            grid: { drawOnChartArea: false, color: "#111", lineWidth: 2, tickLength: 6 },
            border: { display: true, color: "#111", width: 2 },
            ticks: { autoSkip: false, maxRotation: 0, padding: 5, color: INK, font: { family: FONT, size: 16.5 }, callback: (_v: any, i: number) => p.cats[i] },
          },
          y: {
            type: "linear", min: p.range[0], max: p.range[1], afterFit: fixedFit(yW, undefined), afterBuildTicks: setTicks(p.ticks),
            grid: { drawOnChartArea: false, color: "#111", lineWidth: 2, tickLength: 6 },
            border: { display: true, color: "#111", width: 2 },
            ticks: { autoSkip: false, padding: 5, labelOffset: 1, color: INK, font: { family: FONT, size: 16.5 }, callback: (v: number) => fmt(v, p.d) },
            title: { display: true, text: p.yTitle, color: INK, font: { family: FONT, size: titleSize }, padding: { top: yW - p.dist - titleSize * 0.6, bottom: 0 } },
          },
        },
      },
      plugins: [
        {
          id: "panelText",
          afterDraw(chart: any) {
            const { ctx, scales, chartArea } = chart;
            ctx.save();
            ctx.fillStyle = INK;
            ctx.textAlign = "center";
            const mid = scales.x.getPixelForValue(1.5);
            const by = scales.y.getPixelForValue(p.bracket[1]);
            ctx.textBaseline = "alphabetic";
            if (p.sig === "ns") {
              ctx.font = `17px ${FONT}`;
              ctx.fillText(p.sig, mid, by - 3);
            } else {
              ctx.font = `15.5px ${FONT}`;
              ctx.fillText(p.sig, mid, by + 2);
            }
            if (p.title) {
              ctx.font = `19.5px ${FONT}`;
              ctx.textBaseline = "middle";
              ctx.fillText(p.title, mid, chartArea.top - 14);
            }
            ctx.restore();
          },
        },
      ],
    }),
  };
}

/* ---------- Panel A ---------- */
function stackSpec() {
  const [l, r, t, b] = [104, 459, 108, 418];
  const yW = 60, top = 30, right = 10, xH = 30;
  const major = (v: number) => Math.abs(v * 4 - Math.round(v * 4)) < 1e-6;
  return {
    left: l - yW, top: t - top, width: r - l + yW + right, height: b - t + top + xH,
    make: () => ({
      type: "bar",
      data: {
        datasets: [
          { label: "Responder", data: aResponder.map((v, i) => ({ x: i + 1, y: v })), backgroundColor: "#7bb9d5", barThickness: 80, stack: "s", order: 1 },
          { label: "Non-responder", data: aNonResponder.map((v, i) => ({ x: i + 1, y: v })), backgroundColor: "#c64c37", barThickness: 80, stack: "s", order: 2 },
        ],
      },
      options: {
        ...commonOptions({ top, right, left: 0, bottom: 0 }),
        scales: {
          x: {
            type: "linear", stacked: true, offset: false, min: 0.4, max: 2.6, afterFit: fixedFit(undefined, xH), afterBuildTicks: setTicks([1, 2]),
            grid: { offset: false, color: "#ebebeb", lineWidth: 1.5, tickColor: "#666", tickLength: 4 },
            border: { display: false },
            ticks: { autoSkip: false, maxRotation: 0, padding: 1, color: INK, font: { family: FONT, size: 15, weight: "bold" }, callback: (_v: any, i: number) => aCategories[i] },
          },
          y: {
            type: "linear", stacked: true, min: -0.05, max: 1.05, afterFit: fixedFit(yW, undefined), afterBuildTicks: setTicks(aYTicks),
            grid: {
              color: "#ebebeb",
              lineWidth: (c: any) => (c.tick && major(c.tick.value) ? 1.5 : 1),
              tickColor: (c: any) => (c.tick && major(c.tick.value) ? "#666" : "rgba(0,0,0,0)"),
              tickLength: 4,
            },
            border: { display: false },
            ticks: { autoSkip: false, padding: 1, labelOffset: 1, color: INK, font: { family: FONT, size: 16, weight: "bold" }, callback: (v: number) => (major(v) ? v.toFixed(2) : "") },
          },
        },
      },
      plugins: [
        {
          id: "panelFrame",
          beforeDraw(chart: any) {
            const { ctx, chartArea: a } = chart;
            ctx.save();
            ctx.fillStyle = "#f3f3f3";
            ctx.fillRect(a.left, a.top, a.width, a.height);
            ctx.restore();
          },
          afterDraw(chart: any) {
            const { ctx, chartArea: a } = chart;
            ctx.save();
            ctx.strokeStyle = "#a8a8a8";
            ctx.lineWidth = 2;
            ctx.strokeRect(a.left, a.top, a.width, a.height);
            ctx.fillStyle = INK;
            ctx.font = `14.2px ${FONT}`;
            ctx.textBaseline = "middle";
            ctx.textAlign = "left";
            ctx.fillText(`Chi${MINUS}square test p < 1e${MINUS}04`, a.left, a.top - 13);
            ctx.restore();
          },
        },
      ],
    }),
  };
}

/* ---------- Panel E ---------- */
const rotatedLabels = (labels: string[], font: string) => ({
  id: "rotatedLabels",
  afterDraw(chart: any) {
    const { ctx, scales, chartArea } = chart;
    ctx.save();
    ctx.fillStyle = "#111";
    ctx.font = font;
    ctx.textAlign = "left";
    ctx.textBaseline = "middle";
    labels.forEach((t, i) => {
      ctx.save();
      ctx.translate(scales.x.getPixelForValue(i) - 1, chartArea.bottom + 9);
      ctx.rotate(Math.PI / 2);
      ctx.fillText(t, 0, 0);
      ctx.restore();
    });
    ctx.restore();
  },
});

function heatSpec() {
  const [l, r, t, b] = [91.7, 430.7, 518.7, 869.7];
  const pad = 10, right = 70, xH = 180;
  const rows = [heatNominalC1, heatNominalC2, heatBonferroniC1, heatBonferroniC2];
  return {
    left: l - pad, top: t - pad, width: r - l + pad + right, height: b - t + pad + xH,
    make: () => ({
      type: "bar",
      data: {
        labels: heatColumns,
        datasets: rows.map((vals, i) => ({
          data: vals.map(() => [heatRowStarts[i], heatRowStarts[i] + 1]),
          backgroundColor: vals.map(binColor),
          borderColor: "#8e8e8e",
          borderWidth: 2,
          borderSkipped: false,
          barPercentage: 1,
          categoryPercentage: 1,
          grouped: false,
        })),
      },
      options: {
        ...commonOptions({ left: pad, top: pad, right: 0, bottom: 0 }),
        scales: {
          x: { type: "category", afterFit: fixedFit(undefined, xH), grid: { display: false }, border: { display: false }, ticks: { display: false } },
          y: {
            type: "linear", position: "right", min: 0, max: 4.13, afterFit: fixedFit(right, undefined), afterBuildTicks: setTicks(heatRowTicks),
            grid: { display: false, drawTicks: false }, border: { display: false },
            ticks: { autoSkip: false, padding: 3.5, labelOffset: 3, color: "#111", font: { family: FONT, size: 37, weight: "bold" }, callback: (_v: any, i: number) => heatRowLabels[i] },
          },
        },
      },
      plugins: [
        rotatedLabels(heatColumns, `28.5px ${FONT}`),
        {
          id: "cellNotes",
          afterDatasetsDraw(chart: any) {
            const { ctx, scales } = chart;
            ctx.save();
            ctx.fillStyle = "#111";
            ctx.font = `bold 19px ${FONT}`;
            ctx.textAlign = "center";
            ctx.textBaseline = "middle";
            rows.forEach((vals, i) => {
              vals.forEach((v, j) => {
                if (v > 0 && v < 0.1) ctx.fillText(String(v).padEnd(5, "0"), scales.x.getPixelForValue(j) - 3, scales.y.getPixelForValue(heatRowStarts[i] + 0.47));
              });
            });
            ctx.restore();
          },
        },
      ],
    }),
  };
}

function annotationSpec() {
  const [l, r, t, b] = [55, 84.5, 518.7, 869.7];
  const pad = 10, xH = 180;
  const groupColors = ["#dcdcdc", "#dcdcdc", "#5e0a50", "#5e0a50"];
  return {
    left: l - pad, top: t - pad, width: r - l + pad * 2, height: b - t + pad + xH,
    make: () => ({
      type: "bar",
      data: {
        labels: ["pvalue"],
        datasets: heatRowStarts.map((s, i) => ({
          data: [[s, s + 1]],
          backgroundColor: groupColors[i],
          borderColor: "#9a9a9a",
          borderWidth: 2,
          borderSkipped: false,
          barPercentage: 1,
          categoryPercentage: 1,
          grouped: false,
        })),
      },
      options: {
        ...commonOptions({ left: pad, top: pad, right: pad, bottom: 0 }),
        scales: {
          x: { type: "category", afterFit: fixedFit(undefined, xH), grid: { display: false }, border: { display: false }, ticks: { display: false } },
          y: { type: "linear", min: 0, max: 4.13, afterFit: fixedFit(0, undefined), grid: { display: false }, border: { display: false }, ticks: { display: false } },
        },
      },
      plugins: [rotatedLabels(["pvalue"], `bold 27px ${FONT}`)],
    }),
  };
}

function colorBarSpec() {
  const [l, r, t, b] = [508, 536, 519.3, 943];
  const pad = 20, right = 60;
  return {
    left: l - pad, top: t - pad, width: r - l + pad + right, height: b - t + pad * 2,
    make: () => ({
      type: "bar",
      data: {
        labels: ["p"],
        datasets: heatBinColors.map((c, i) => ({
          data: [[heatBinEdges[i], heatBinEdges[i + 1]]],
          backgroundColor: c,
          borderWidth: 0,
          barPercentage: 1,
          categoryPercentage: 1,
          grouped: false,
        })),
      },
      options: {
        ...commonOptions({ left: pad, top: pad, right: 0, bottom: pad }),
        scales: {
          x: { type: "category", afterFit: fixedFit(undefined, 0), grid: { display: false }, border: { display: false }, ticks: { display: false } },
          y: {
            type: "linear", position: "right", min: 0, max: 1, afterFit: fixedFit(right, undefined), afterBuildTicks: setTicks(heatBarTicks),
            grid: { display: false, drawTicks: false }, border: { display: false },
            ticks: { autoSkip: false, padding: 12, labelOffset: 2.5, color: "#222", font: { family: FONT, size: 27 }, callback: (_v: any, i: number) => heatBarTickLabels[i] },
          },
        },
      },
    }),
  };
}

const specs = [stackSpec(), heatSpec(), annotationSpec(), colorBarSpec(), ...panels.map(violinSpec)];

/* ---------- Plain text ---------- */
const panelLetters: [string, number, number][] = [
  ["A", 2, 3], ["B", 494, 4], ["C", 936, 4], ["D", 1346, 4],
  ["E", 2, 473], ["F", 939, 473], ["G", 1371, 473],
  ["H", 2, 1089], ["I", 484, 1089], ["J", 946, 1089], ["K", 1375, 1089],
];

function ChartCanvas({ spec }: { spec: any }) {
  const ref = useRef<HTMLCanvasElement | null>(null);
  useEffect(() => {
    const chart = new Chart(ref.current as any, spec.make());
    return () => chart.destroy();
  }, [spec]);
  return (
    <canvas
      ref={ref}
      width={spec.width}
      height={spec.height}
      style={{ position: "absolute", left: spec.left, top: spec.top, width: spec.width, height: spec.height }}
    />
  );
}

function Label(props: { x: number; y: number; size: number; bold?: boolean; children: React.ReactNode }) {
  return (
    <div
      style={{
        position: "absolute",
        left: props.x,
        top: props.y - props.size,
        height: props.size * 2,
        lineHeight: `${props.size * 2}px`,
        fontFamily: FONT,
        fontSize: props.size,
        fontWeight: props.bold ? 700 : 400,
        color: "#111",
        whiteSpace: "nowrap",
      }}
    >
      {props.children}
    </div>
  );
}

function Swatch(props: { x: number; y: number; w: number; h: number; color: string; border: string }) {
  return (
    <div
      style={{
        position: "absolute",
        left: props.x,
        top: props.y,
        width: props.w,
        height: props.h,
        boxSizing: "border-box",
        background: props.color,
        border: `2px solid ${props.border}`,
      }}
    />
  );
}

export default function App() {
  return (
    <div style={{ position: "absolute", left: 0, top: 0, width: 1772, height: 1499, overflow: "hidden", background: "#fff" }}>
      {specs.map((s, i) => (
        <ChartCanvas key={i} spec={s} />
      ))}
      {panelLetters.map(([t, x, y]) => (
        <div key={t} style={{ position: "absolute", left: x, top: y - 5, fontFamily: FONT, fontWeight: 700, fontSize: 40, lineHeight: "40px", color: "#000" }}>
          {t}
        </div>
      ))}
      <Label x={114} y={61} size={12}>Responder</Label>
      <Swatch x={178} y={52} w={17} h={17} color="#c64c37" border="#d0583f" />
      <Label x={201} y={61} size={9.8}>{`Non${MINUS}responder`}</Label>
      <Swatch x={274} y={52} w={18} h={17} color="#7bb9d5" border="#86c1da" />
      <Label x={298} y={61} size={9.8}>Responder</Label>
      <Label x={595} y={531} size={27} bold>pvalue</Label>
      <Swatch x={593} y={549} w={41} h={42} color="#dcdcdc" border="#9a9a9a" />
      <Swatch x={593} y={589} w={41} h={42} color="#5e0a50" border="#9a9a9a" />
      <Label x={643} y={570} size={28}>Nominal p value</Label>
      <Label x={643} y={611} size={28}>Bonferroni corrected</Label>
    </div>
  );
}
